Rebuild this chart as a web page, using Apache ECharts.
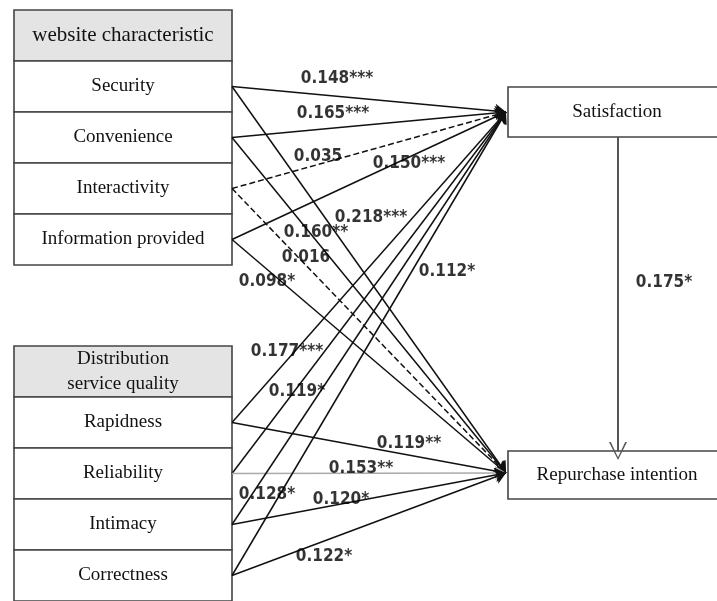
<!DOCTYPE html>
<html>
<head>
<meta charset="utf-8">
<script src="https://cdn.jsdelivr.net/npm/echarts@6/dist/echarts.min.js"></script>
<style>html,body{margin:0;padding:0;background:#fff}#main{width:717px;height:601px}</style>
</head>
<body>
<div id="main"></div>
<script>
// constructs
var groupA = 'website characteristic';
var groupB = 'Distribution\nservice quality';
var factorsA = ['Security', 'Convenience', 'Interactivity', 'Information provided'];
var factorsB = ['Rapidness', 'Reliability', 'Intimacy', 'Correctness'];
var outcomes = ['Satisfaction', 'Repurchase intention'];
// path coefficients, order = factorsA then factorsB
var coefSat = [0.148, 0.165, 0.035, 0.150, 0.177, 0.119, 0.128, 0.112];
var sigSat  = ['***', '***', '', '***', '***', '*', '*', '*'];
var coefRep = [0.218, 0.160, 0.016, 0.098, 0.119, 0.153, 0.120, 0.122];
var sigRep  = ['***', '**', '', '*', '**', '**', '*', '*'];
var coefSatRep = 0.175;
var sigSatRep = '*';

// layout (axis units == px)
var boxX = 123, boxW = 218, rowH = 51;
var topA = 10, topB = 346;
var outX = 617, outW = 218, outY = [112, 475], outH = [50, 48];
var tipX = 506, tipY = [112, 473];
var labSat = [[337,79],[333,114],[318,157],[409,164],[287,352],[297,392],[267,495],[447,272]];
var labRep = [[371,218],[316,233],[306,258],[267,282],[409,444],[361,469],[341,500],[324,557]];
var labSatRep = [664, 283];

var serif = 'Liberation Serif';
var narrow = "'Liberation Sans Narrow','DejaVu Sans Condensed',sans-serif";

var cells = [];
var srcY = [];
function table(top, head, rows, headSize) {
  cells.push({name: head, value: [boxX, top + rowH / 2], w: boxW, h: rowH, fill: '#e4e4e4', fs: headSize});
  rows.forEach(function (r, i) {
    var cy = top + rowH * (i + 1) + rowH / 2;
    cells.push({name: r, value: [boxX, cy], w: boxW, h: rowH, fill: '#fff', fs: 19});
    srcY.push(cy);
  });
}
table(topA, groupA, factorsA, 21);
table(topB, groupB, factorsB, 19);
outcomes.forEach(function (o, i) {
  cells.push({name: o, value: [outX, outY[i]], w: outW, h: outH[i], fill: '#fff', fs: 19});
});

var srcX = boxX + boxW / 2;
var paths = [], labels = [];
srcY.forEach(function (y, i) {
  paths.push({coords: [[srcX, y], [tipX, tipY[0]]], lineStyle: {type: sigSat[i] ? 'solid' : 'dashed'}});
  paths.push({coords: [[srcX, y], [tipX, tipY[1]]],
    lineStyle: {type: sigRep[i] ? 'solid' : 'dashed', color: i === 5 ? '#aaa' : '#111'}});
  labels.push({name: coefSat[i].toFixed(3) + sigSat[i], value: labSat[i]});
  labels.push({name: coefRep[i].toFixed(3) + sigRep[i], value: labRep[i]});
});
labels.push({name: coefSatRep.toFixed(3) + sigSatRep, value: labSatRep});

function drawCell(params, api) {
  var d = cells[params.dataIndex];
  var c = api.coord([api.value(0), api.value(1)]);
  return {
    type: 'group',
    children: [
      {type: 'rect', shape: {x: c[0] - d.w / 2, y: c[1] - d.h / 2, width: d.w, height: d.h},
        style: {fill: d.fill, stroke: '#444', lineWidth: 1.6}},
      {type: 'text', x: c[0], y: c[1],
        style: {text: d.name, align: 'center', verticalAlign: 'middle', fill: '#111',
          fontFamily: serif, fontSize: d.fs, lineHeight: 25}}
    ]
  };
}

var myChart = echarts.init(document.getElementById('main'));
option = {
  animation: false,
  grid: {left: 0, right: 0, top: 0, bottom: 0},
  xAxis: {type: 'value', min: 0, max: 717, show: false},
  yAxis: {type: 'value', min: 0, max: 601, inverse: true, show: false},
  series: [
    {
      type: 'custom',
      data: cells,
      z: 1,
      renderItem: drawCell
    },
    {
      type: 'lines',
      coordinateSystem: 'cartesian2d',
      data: paths,
      z: 2,
      symbol: ['none', 'arrow'],
      symbolSize: 11,
      lineStyle: {color: '#111', width: 1.5, opacity: 1}
    },
    {
      type: 'lines',
      coordinateSystem: 'cartesian2d',
      data: [{coords: [[outX + 1, outY[0] + outH[0] / 2], [outX + 1, outY[1] - outH[1] / 2]]}],
      z: 2,
      symbol: ['none', 'path://M0,20 L10,0 L20,20 L18,20 L10,3 L2,20 Z'],
      symbolSize: [14, 18],
      lineStyle: {color: '#555', width: 2, opacity: 1}
    },
    {
      type: 'scatter',
      data: labels,
      symbolSize: 0,
      z: 3,
      label: {show: true, position: 'inside', formatter: '{b}', color: '#000',
        fontFamily: narrow, fontWeight: 'bold', fontSize: 17}
    }
  ]
};
option && myChart.setOption(option);
</script>
</body>
</html>
